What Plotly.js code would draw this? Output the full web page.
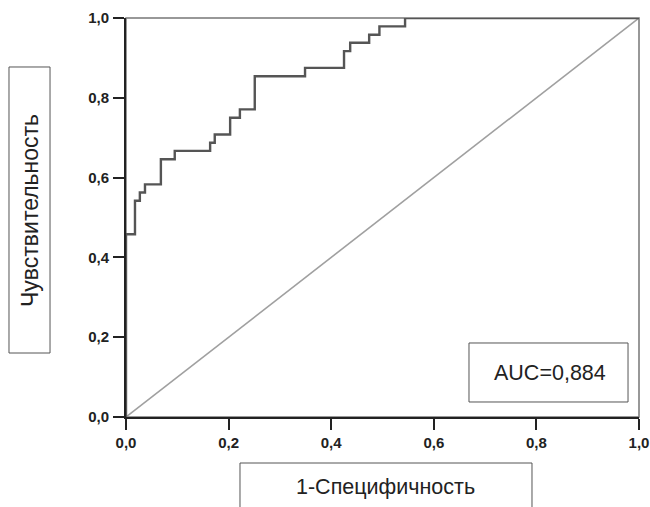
<!DOCTYPE html>
<html>
<head>
<meta charset="utf-8">
<script src="https://cdn.plot.ly/plotly-3.0.1.min.js"></script>
<style>html,body{margin:0;padding:0;background:#fff;}#chart{width:650px;height:507px;}</style>
</head>
<body>
<div id="chart"></div>
<script>
// ROC curve corner points (1-specificity, sensitivity)
var rocFpr = [0, 0, 0.0175, 0.027, 0.037, 0.068, 0.095, 0.164, 0.173, 0.203, 0.222, 0.251, 0.349, 0.425, 0.437, 0.474, 0.494, 0.544, 1.0];
var rocTpr = [0, 0.458, 0.542, 0.5625, 0.583, 0.646, 0.667, 0.6875, 0.708, 0.750, 0.771, 0.854, 0.875, 0.917, 0.938, 0.958, 0.979, 1.0, 1.0];
var refX = [0, 1];
var refY = [0, 1];
var tickVals = [0, 0.2, 0.4, 0.6, 0.8, 1.0];
var aucText = "AUC=0,884";
var xTitle = "1-Специфичность";
var yTitle = "Чувствительность";

var traces = [
  {x: refX, y: refY, mode: 'lines', line: {color: '#a0a0a0', width: 1.6}, hoverinfo: 'skip'},
  {x: rocFpr, y: rocTpr, mode: 'lines', line: {color: '#555555', width: 2.4, shape: 'hv'}, hoverinfo: 'skip'}
];

var axisCommon = {
  range: [0, 1], tickvals: tickVals, tickformat: '.1f',
  showgrid: false, zeroline: false, showline: true, linecolor: '#222', linewidth: 2,
  ticks: 'outside', ticklen: 11, tickwidth: 2, tickcolor: '#222',
  tickfont: {family: 'Liberation Sans, Arial, sans-serif', size: 15, color: '#222', weight: 'bold'},
  fixedrange: true
};

var layout = {
  width: 650, height: 507,
  margin: {l: 126, r: 11, t: 18, b: 90},
  paper_bgcolor: '#fff', plot_bgcolor: '#fff',
  separators: ',.',
  showlegend: false,
  xaxis: Object.assign({}, axisCommon, {ticklabelstandoff: 0}),
  yaxis: Object.assign({}, axisCommon, {ticklabelstandoff: 1}),
  shapes: [
    {type: 'rect', xref: 'paper', yref: 'paper', x0: 0, x1: 1, y0: 0, y1: 1, line: {color: '#777', width: 1.5}, layer: 'below'},
    {type: 'rect', xref: 'paper', yref: 'paper', x0: 0.6686, x1: 0.9786, y0: 0.0376, y1: 0.1855, line: {color: '#555', width: 1}},
    {type: 'rect', xref: 'paper', yref: 'paper', x0: -0.2281, x1: -0.1481, y0: 0.1604, y1: 0.8772, line: {color: '#555', width: 1}},
    {type: 'rect', xref: 'paper', yref: 'paper', x0: 0.2222, x1: 0.7914, y0: -0.283, y1: -0.1153, line: {color: '#555', width: 1}}
  ],
  annotations: [
    {text: aucText, xref: 'paper', yref: 'paper', x: 0.8266, y: 0.1115, xanchor: 'center', yanchor: 'middle', showarrow: false,
     font: {family: 'Liberation Sans, Arial, sans-serif', size: 21.5, color: '#222'}},
    {text: xTitle, xref: 'paper', yref: 'paper', x: 0.5068, y: -0.1754, xanchor: 'center', yanchor: 'middle', showarrow: false,
     font: {family: 'Liberation Sans, Arial, sans-serif', size: 21.5, color: '#222'}},
    {text: yTitle, xref: 'paper', yref: 'paper', x: -0.1871, y: 0.5163, xanchor: 'center', yanchor: 'middle', showarrow: false, textangle: -90,
     font: {family: 'Liberation Sans, Arial, sans-serif', size: 23, color: '#222'}}
  ]
};

Plotly.newPlot('chart', traces, layout, {staticPlot: true, displayModeBar: false});
</script>
</body>
</html>
